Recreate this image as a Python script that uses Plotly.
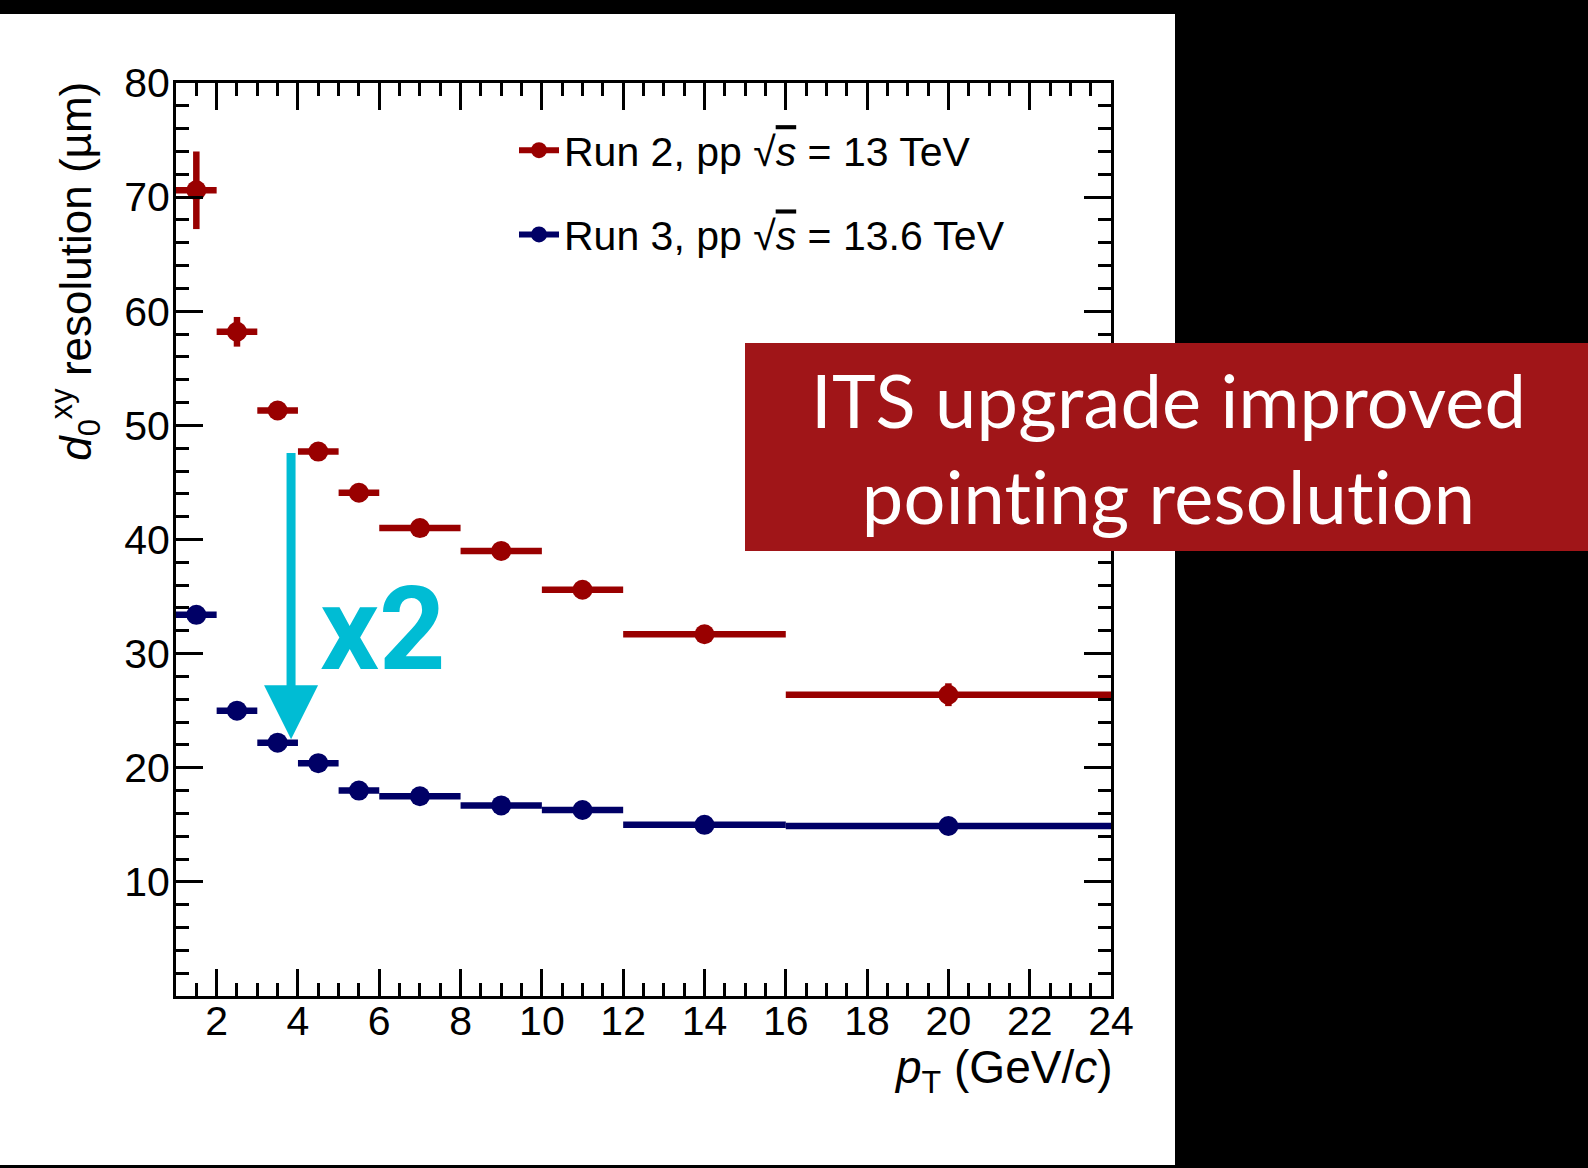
import plotly.graph_objects as go

# ---- data ----
pt_centers = [1.5, 2.5, 3.5, 4.5, 5.5, 7, 9, 11, 14, 20]
pt_halfwidth = [0.5, 0.5, 0.5, 0.5, 0.5, 1, 1, 1, 2, 4]
run2_res = [70.6, 58.2, 51.3, 47.7, 44.1, 41.0, 39.0, 35.6, 31.7, 26.4]
run2_err = [3.4, 1.3, 0.5, 0.4, 0.4, 0.4, 0.4, 0.4, 0.4, 1.0]
run3_res = [33.4, 25.0, 22.2, 20.4, 18.0, 17.5, 16.7, 16.3, 15.0, 14.9]
run3_err = [0.4, 0.3, 0.3, 0.3, 0.3, 0.3, 0.3, 0.3, 0.3, 0.3]
x_tickvals = [2, 4, 6, 8, 10, 12, 14, 16, 18, 20, 22, 24]
y_tickvals = [10, 20, 30, 40, 50, 60, 70, 80]
run2_label = "Run 2, pp \u221a<span style='text-decoration:overline'><i>s</i></span> = 13 TeV"
run3_label = "Run 3, pp \u221a<span style='text-decoration:overline'><i>s</i></span> = 13.6 TeV"

RED = "#990000"
BLUE = "#000066"
CYAN = "#00BCD4"
FONT = "Liberation Sans"

W, H = 1588, 1168
L, R, T, B = 176, 1588 - 1111, 83, 1168 - 996
PW, PH = W - L - R, H - T - B


def px_x(p):
    return (p - L) / PW


def px_y(p):
    return (H - B - p) / PH


fig = go.Figure()

for name, vals, errs, col, grp in [(run2_label, run2_res, run2_err, RED, "a"),
                                   (run3_label, run3_res, run3_err, BLUE, "b")]:
    fig.add_trace(go.Scatter(
        x=pt_centers, y=vals, mode="markers",
        marker=dict(color=col, size=20),
        error_x=dict(type="data", array=pt_halfwidth, color=col, thickness=6.5, width=0),
        error_y=dict(type="data", array=errs, color=col, thickness=6.5, width=0),
        showlegend=False, cliponaxis=False))
    fig.add_trace(go.Scatter(
        x=[None], y=[None], mode="lines+markers", name=name, legendgroup=grp,
        line=dict(color=col, width=6), marker=dict(color=col, size=20)))

# white panel behind chart
fig.add_shape(type="rect", xref="paper", yref="paper",
              x0=px_x(0), x1=px_x(1175), y0=px_y(1165), y1=px_y(14),
              fillcolor="white", line=dict(width=0), layer="below")

# red banner
fig.add_shape(type="rect", xref="paper", yref="paper",
              x0=px_x(745), x1=px_x(1588), y0=px_y(551), y1=px_y(343),
              fillcolor="#A01518", line=dict(width=0), layer="above")
fig.add_annotation(xref="paper", yref="paper", x=px_x(1168), y=px_y(447),
                   text="<span style='font-variant-ligatures:none;letter-spacing:0.2px'>"
                        "ITS upgrade improved</span><br>"
                        "<span style='font-variant-ligatures:none;letter-spacing:0.2px'>"
                        "pointing resolution</span>",
                   showarrow=False, xanchor="center", yanchor="middle",
                   font=dict(family="Lato", size=74, color="white"))

# cyan arrow and x2
fig.add_annotation(x=3.83, y=22.5, ax=3.83, ay=47.7, xref="x", yref="y",
                   axref="x", ayref="y", text="", showarrow=True,
                   arrowhead=2, arrowsize=1.2, arrowwidth=9, arrowcolor=CYAN)
fig.add_annotation(x=6.1, y=32.2, xref="x", yref="y", text="<b>x2</b>",
                   showarrow=False, font=dict(family="Roboto", size=116, color=CYAN))

# axis titles
fig.add_annotation(xref="paper", yref="paper", x=px_x(76), y=1.003,
                   text="<i>d</i><sub>0</sub><sup>xy</sup> resolution (\u00b5m)",
                   textangle=-90, showarrow=False, xanchor="center", yanchor="top",
                   font=dict(family=FONT, size=44, color="black"))
fig.add_annotation(xref="paper", yref="paper", x=px_x(1115), y=px_y(1070),
                   text="<i>p</i><sub>T</sub> (GeV/<i>c</i>)",
                   showarrow=False, xanchor="right", yanchor="middle",
                   font=dict(family=FONT, size=46, color="black"))

axis_common = dict(showline=True, linecolor="black", linewidth=3, mirror="ticks",
                   ticks="inside", ticklen=27, tickwidth=3, tickcolor="black",
                   showgrid=False, zeroline=False,
                   tickfont=dict(family=FONT, size=41, color="black"))

fig.update_xaxes(range=[1, 24], tickvals=x_tickvals,
                 minor=dict(ticks="inside", ticklen=13, tickwidth=3, dtick=0.5,
                            tick0=0, tickcolor="black", showgrid=False),
                 ticklabelstandoff=-13,
                 **axis_common)
fig.update_yaxes(range=[0, 80], tickvals=y_tickvals,
                 minor=dict(ticks="inside", ticklen=13, tickwidth=3, dtick=2,
                            tick0=0, tickcolor="black", showgrid=False),
                 ticklabelstandoff=-5,
                 **axis_common)

fig.update_layout(
    width=W, height=H, margin=dict(l=L, r=R, t=T, b=B, pad=0),
    paper_bgcolor="black", plot_bgcolor="white",
    legend=dict(x=px_x(514), y=px_y(117), xanchor="left", yanchor="top",
                bgcolor="rgba(0,0,0,0)", font=dict(family=FONT, size=41, color="black"),
                traceorder="grouped", tracegroupgap=28, itemwidth=40),
)

fig.write_html("out.html")
